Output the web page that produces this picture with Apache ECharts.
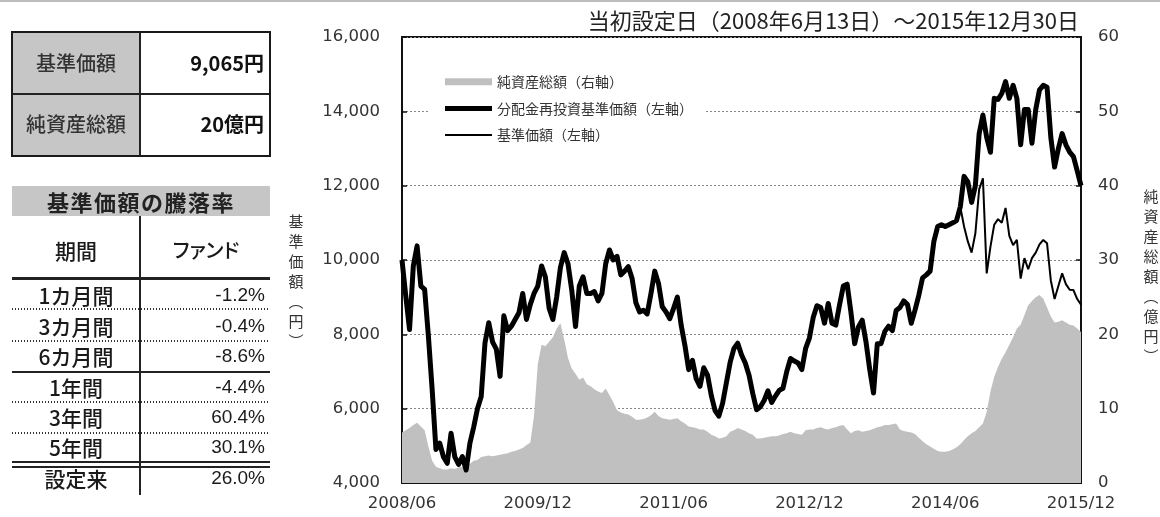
<!DOCTYPE html>
<html><head><meta charset="utf-8">
<script src="https://cdn.jsdelivr.net/npm/echarts/dist/echarts.min.js"></script>
<style>
html,body{margin:0;padding:0;background:#fff;}
#wrap{position:relative;width:1160px;height:517px;overflow:hidden;font-family:"Noto Sans CJK JP",sans-serif;}
#chart{position:absolute;left:0;top:0;width:1160px;height:517px;}
.ln{position:absolute;background:#222;}
.dot{position:absolute;height:2px;background:repeating-linear-gradient(to right,#333 0 1.5px,transparent 1.5px 3px);}
.lab{position:absolute;text-align:center;color:#1a1a1a;font-size:21px;white-space:nowrap;font-weight:500;}
.val{position:absolute;text-align:right;color:#1a1a1a;font-family:"Liberation Sans",Arial,sans-serif;font-size:19px;white-space:nowrap;}
</style></head>
<body>
<div id="wrap">
  <div id="chart"></div>
  <div id="tables"></div>
</div>
<script>
// ---------------- data ----------------
const titleText = '当初設定日（2008年6月13日）～2015年12月30日';
const tickLabels = ['2008/06','2009/12','2011/06','2012/12','2014/06','2015/12'];
const seriesNames = ['純資産総額（右軸）','分配金再投資基準価額（左軸）','基準価額（左軸）'];
const leftAxisName = '基準価額（円）';
const rightAxisName = '純資産総額（億円）';

// semi-monthly periods 2008/06 .. 2015/12
const periods = [];
for (let k = 0; k <= 180; k++) {
  const m = 5 + Math.floor(k / 2);
  const y = 2008 + Math.floor(m / 12);
  const mm = (m % 12) + 1;
  periods.push(y + '/' + String(mm).padStart(2, '0') + (k % 2 ? '後半' : '前半'));
}

// 分配金再投資基準価額 (円)
const navReinvested = [
  10000,9030,8130,9840,10380,9300,9210,7950,6510,4900,
  5070,4700,4530,5340,4700,4500,4710,4350,5070,5500,
  6000,6330,7770,8310,7800,7600,6870,8500,8100,8220,
  8400,8580,9100,8400,8800,9100,9300,9840,9550,8700,
  8400,9000,9800,10200,9900,9190,8210,9300,9550,9100,
  9100,9150,8900,9100,9900,10270,10000,10100,9600,9700,
  9820,9500,8850,8600,8650,8550,9100,9700,9370,8740,
  8600,8420,8700,9000,8250,7700,7050,7300,6800,6600,
  7100,6900,6350,5950,5800,6150,6700,7250,7620,7760,
  7450,7230,6900,6400,5970,6050,6220,6480,6170,6340,
  6490,6550,7000,7350,7280,7230,7050,7620,7900,8450,
  8770,8720,8300,8830,8300,8250,8800,9300,9350,8600,
  7750,8200,8380,7800,7050,6420,7750,7750,8080,8220,
  8100,8640,8720,8900,8800,8300,8650,9050,9520,9600,
  9700,10500,10900,10950,10900,10950,11000,11060,11430,12250,
  12100,11550,12000,13400,13900,13300,12900,14350,14320,14480,
  14800,14350,14700,14350,13100,14050,14050,13140,14050,14580,
  14700,14650,13300,12500,13000,13400,13100,12900,12780,12400,12000
];

// 基準価額 (円)
const nav = [
  10000,9030,8130,9840,10380,9300,9210,7950,6510,4900,
  5070,4700,4530,5340,4700,4500,4710,4350,5070,5500,
  6000,6330,7770,8310,7800,7600,6870,8500,8100,8220,
  8400,8580,9100,8400,8800,9100,9300,9840,9550,8700,
  8400,9000,9800,10200,9900,9190,8210,9300,9550,9100,
  9100,9150,8900,9100,9900,10270,10000,10100,9600,9700,
  9820,9500,8850,8600,8650,8550,9100,9700,9370,8740,
  8600,8420,8700,9000,8250,7700,7050,7300,6800,6600,
  7100,6900,6350,5950,5800,6150,6700,7250,7620,7760,
  7450,7230,6900,6400,5970,6050,6220,6480,6170,6340,
  6490,6550,7000,7350,7280,7230,7050,7620,7900,8450,
  8770,8720,8300,8830,8300,8250,8800,9300,9350,8600,
  7750,8200,8380,7800,7050,6420,7750,7750,8080,8220,
  8100,8640,8720,8900,8800,8300,8650,9050,9520,9600,
  9700,10500,10900,10950,10900,10950,11000,11060,11430,10900,
  10500,10200,10720,11900,12200,9640,10360,10950,11100,11000,
  11400,10650,10400,10540,9500,10050,9750,10050,10200,10420,
  10540,10450,9450,8950,9300,9640,9350,9200,9190,8950,8800
];

// 純資産総額 (億円)
const netAssets = [
  6.8,7.1,7.4,7.8,8.1,7.6,7.1,4.9,3.0,2.2,
  2.0,1.8,1.8,2.0,1.9,2.1,2.2,2.4,2.6,3.0,
  3.1,3.5,3.6,3.7,3.6,3.7,3.8,3.9,4.0,4.2,
  4.3,4.5,4.7,5.1,5.4,9.0,16.0,18.6,18.4,19.0,
  19.6,20.8,21.5,19.3,16.8,15.4,14.7,13.9,14.2,13.3,
  13.0,12.6,12.3,12.1,12.7,11.8,10.9,9.8,9.5,9.3,
  9.2,8.9,8.5,8.5,8.6,8.8,9.1,9.6,9.0,8.7,
  8.6,8.5,8.6,8.7,8.3,8.0,7.6,7.5,7.4,7.2,
  7.2,6.9,6.5,6.3,6.0,6.1,6.3,6.9,7.1,7.4,
  7.2,7.0,6.7,6.5,6.0,6.0,6.1,6.2,6.3,6.3,
  6.4,6.6,6.7,6.9,6.7,6.6,6.5,7.1,7.2,7.2,
  7.4,7.5,7.3,7.2,7.4,7.5,7.7,7.8,7.2,6.7,
  7.0,7.1,6.9,7.0,7.1,7.3,7.5,7.6,7.8,7.8,
  7.9,8.0,7.2,7.0,6.9,6.8,6.6,6.1,5.6,5.2,
  4.9,4.6,4.3,4.2,4.2,4.3,4.5,4.8,5.2,5.8,
  6.3,6.7,7.0,7.5,8.0,9.6,12.3,14.3,15.6,16.7,
  17.6,18.6,19.6,20.8,21.3,22.6,23.9,24.5,25.0,25.3,
  24.8,23.6,22.4,21.6,21.7,21.9,21.6,21.3,21.2,20.8,20.3
];

// left tables
const summaryLabels = ['基準価額','純資産総額'];
const summaryValues = ['9,065円','20億円'];
const returnHeader = '基準価額の騰落率';
const returnColumns = ['期間','ファンド'];
const returnPeriods = ['1カ月間','3カ月間','6カ月間','1年間','3年間','5年間','設定来'];
const returnValues = ['-1.2%','-0.4%','-8.6%','-4.4%','60.4%','30.1%','26.0%'];

// ---------------- tables (HTML) ----------------
(function(){
  const t = document.getElementById('tables');
  let h = '';
  h += '<div style="position:absolute;left:0;top:0;width:1160px;height:2px;background:#bdbdbd"></div>';
  // summary table
  h += '<div style="position:absolute;left:11px;top:31px;width:260px;height:126px;border:2px solid #1a1a1a;box-sizing:border-box"></div>';
  h += '<div style="position:absolute;left:13px;top:33px;width:126px;height:60px;background:#c6c6c6"></div>';
  h += '<div style="position:absolute;left:13px;top:95px;width:126px;height:60px;background:#c6c6c6"></div>';
  h += '<div class="ln" style="left:139px;top:33px;width:2px;height:122px"></div>';
  h += '<div class="ln" style="left:13px;top:93px;width:256px;height:2px"></div>';
  const cys = [63, 124];
  for (let i = 0; i < 2; i++) {
    h += '<div class="lab" style="left:13px;width:126px;top:' + (cys[i]-15) + 'px;height:30px;line-height:30px;font-size:20px;color:#333">' + summaryLabels[i] + '</div>';
    h += '<div style="position:absolute;left:141px;width:123px;text-align:right;top:' + (cys[i]-15) + 'px;height:30px;line-height:30px;font-size:20px;font-weight:bold;color:#111;white-space:nowrap">' + summaryValues[i] + '</div>';
  }
  // returns table
  h += '<div style="position:absolute;left:12px;top:186px;width:258px;height:30px;background:#c6c6c6"></div>';
  h += '<div style="position:absolute;left:12px;top:186px;width:258px;height:30px;line-height:30px;text-align:center;font-size:22px;font-weight:bold;letter-spacing:1.5px;color:#222;white-space:nowrap">' + returnHeader + '</div>';
  h += '<div class="ln" style="left:139px;top:216px;width:2px;height:279px"></div>';
  h += '<div class="lab" style="left:12px;width:128px;top:235px;height:30px;line-height:30px;font-size:21px">' + returnColumns[0] + '</div>';
  h += '<div class="lab" style="left:141px;width:130px;top:235px;height:30px;line-height:30px;font-size:20px;font-feature-settings:\'palt\'">' + returnColumns[1] + '</div>';
  h += '<div class="ln" style="left:12px;top:277px;width:258px;height:2.5px"></div>';
  h += '<div class="dot" style="left:12px;top:308px;width:258px"></div>';
  h += '<div class="dot" style="left:12px;top:340px;width:258px"></div>';
  h += '<div class="ln" style="left:12px;top:370.5px;width:258px;height:2.5px"></div>';
  h += '<div class="dot" style="left:12px;top:401px;width:258px"></div>';
  h += '<div class="dot" style="left:12px;top:432px;width:258px"></div>';
  h += '<div class="ln" style="left:12px;top:460.5px;width:258px;height:2px"></div>';
  h += '<div class="ln" style="left:12px;top:465.5px;width:258px;height:2px"></div>';
  const rcy = [295, 325.5, 355.5, 386.5, 416.5, 446.5, 478];
  for (let i = 0; i < returnPeriods.length; i++) {
    h += '<div class="lab" style="left:12px;width:128px;top:' + (rcy[i]-15) + 'px;height:30px;line-height:30px">' + returnPeriods[i] + '</div>';
    h += '<div class="val" style="left:141px;width:124px;top:' + (rcy[i]-15) + 'px;height:30px;line-height:30px">' + returnValues[i] + '</div>';
  }
  t.innerHTML = h;
})();

// ---------------- chart ----------------
const chart = echarts.init(document.getElementById('chart'), null, {renderer: 'canvas'});
const axisFont = {fontFamily: 'DejaVu Sans', fontSize: 16.5, color: '#333'};
const every18 = (i) => i % 36 === 0;
const vertical = (s) => s.replace('（', '︵').replace('）', '︶').split('').join('\n');

chart.setOption({
  animation: false,
  title: {
    text: titleText, right: 76, top: 5,
    textStyle: {fontFamily: 'Noto Sans CJK JP', fontSize: 22, fontWeight: 'normal', color: '#222'}
  },
  legend: {
    orient: 'vertical', left: 430, top: 64.7,
    itemWidth: 47, itemHeight: 14, itemGap: 12.7, symbolKeepAspect: true,
    padding: [10, 13, 10, 15], backgroundColor: '#fff',
    textStyle: {fontFamily: 'Noto Sans CJK JP', fontSize: 14, color: '#333', lineHeight: 14},
    data: [
      {name: seriesNames[0], icon: 'path://M0,0H47V7H0Z', itemStyle: {color: '#c0c0c0'}},
      {name: seriesNames[1], icon: 'path://M0,0H47V5H0Z', itemStyle: {color: '#000'}},
      {name: seriesNames[2], icon: 'path://M0,0H47V2H0Z', itemStyle: {color: '#000'}}
    ]
  },
  grid: {left: 402, right: 79, top: 37, bottom: 34, show: true, borderColor: '#111', borderWidth: 2},
  xAxis: {
    type: 'category', data: periods, boundaryGap: false,
    axisLine: {lineStyle: {color: '#111', width: 2}},
    axisTick: {inside: true, length: 5, interval: every18, lineStyle: {color: '#111', width: 2}},
    axisLabel: Object.assign({interval: every18, margin: 12, formatter: (v, i) => tickLabels[i / 36]}, axisFont),
    splitLine: {show: false}
  },
  yAxis: [
    {
      type: 'value', min: 4000, max: 16000, interval: 2000, position: 'left',
      axisLine: {show: true, lineStyle: {color: '#111', width: 2}},
      axisTick: {show: true, inside: true, length: 5, lineStyle: {color: '#111', width: 1.5}},
      axisLabel: Object.assign({margin: 22, formatter: (v) => v.toLocaleString('en-US')}, axisFont),
      splitLine: {show: true, lineStyle: {color: '#888', type: [2, 2], width: 1}}
    },
    {
      type: 'value', min: 0, max: 60, interval: 10, position: 'right',
      axisLine: {show: true, lineStyle: {color: '#111', width: 2}},
      axisTick: {show: true, inside: true, length: 5, lineStyle: {color: '#111', width: 1.5}},
      axisLabel: Object.assign({margin: 17}, axisFont),
      splitLine: {show: false}
    }
  ],
  graphic: [
    {type: 'text', x: 296, y: 211, style: {text: vertical(leftAxisName), fontFamily: 'Noto Sans CJK JP', fontSize: 15, lineHeight: 20, align: 'center', verticalAlign: 'top', fill: '#333'}},
    {type: 'text', x: 1151, y: 186, style: {text: vertical(rightAxisName), fontFamily: 'Noto Sans CJK JP', fontSize: 15, lineHeight: 20, align: 'center', verticalAlign: 'top', fill: '#333'}}
  ],
  series: [
    {name: seriesNames[0], type: 'line', yAxisIndex: 1, data: netAssets, symbol: 'none',
     lineStyle: {width: 0, color: '#c0c0c0'}, itemStyle: {color: '#c0c0c0'},
     areaStyle: {color: '#c0c0c0', opacity: 1}, z: 1},
    {name: seriesNames[1], type: 'line', data: navReinvested, symbol: 'none',
     lineStyle: {width: 5, color: '#000', join: 'round'}, itemStyle: {color: '#000'}, z: 2},
    {name: seriesNames[2], type: 'line', data: nav, symbol: 'none',
     lineStyle: {width: 2, color: '#000'}, itemStyle: {color: '#000'}, z: 3}
  ]
});
</script>
</body></html>
